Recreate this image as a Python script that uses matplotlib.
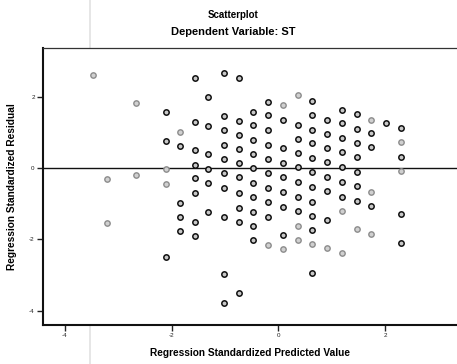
import matplotlib
matplotlib.use("Agg")
import matplotlib.pyplot as plt
from matplotlib.lines import Line2D

plt.rcParams['font.family'] = ['Liberation Sans', 'DejaVu Sans']

title_top = "Scatterplot"
title_sub = "Dependent Variable: ST"
x_label = "Regression Standardized Predicted Value"
y_label = "Regression Standardized Residual"

x_ticks = [-4, -2, 0, 2]
y_ticks = [-4, -2, 0, 2]

# Standardized predicted values (one per column of the lattice)
pred_values = [-2.11, -1.85, -1.57, -1.31, -1.02, -0.74, -0.48, -0.20,
               0.08, 0.37, 0.63, 0.91, 1.19, 1.47, 1.73, 2.01, 2.30]

# Standardized residuals observed at each predicted value
resid_values = [
    [1.57, 0.76, -2.49],
    [0.62, -0.98, -1.37, -1.76],
    [2.52, 1.29, 0.50, 0.08, -0.28, -0.70, -1.51, -1.90],
    [1.99, 1.18, 0.39, -0.03, -0.42, -1.23],
    [2.66, 1.46, 1.06, 0.64, 0.25, -0.14, -0.56, -1.37, -2.97, -3.78],
    [2.52, 1.32, 0.92, 0.53, 0.14, -0.25, -0.70, -1.12, -1.51, -3.50],
    [1.57, 1.20, 0.78, 0.39, 0.00, -0.42, -0.81, -1.23, -1.62, -2.02],
    [1.85, 1.48, 1.06, 0.64, 0.25, -0.14, -0.56, -0.95, -1.37],
    [1.34, 0.56, 0.14, -0.25, -0.67, -1.09, -1.88],
    [1.20, 0.81, 0.42, 0.03, -0.39, -0.81, -1.20],
    [1.88, 1.48, 1.06, 0.70, 0.28, -0.11, -0.53, -0.95, -1.34, -1.74, -2.94],
    [1.34, 0.95, 0.56, 0.17, -0.25, -0.64, -1.46],
    [1.62, 1.26, 0.84, 0.45, 0.03, -0.39, -0.81],
    [1.51, 1.09, 0.70, 0.31, -0.11, -0.50, -0.92],
    [0.98, 0.59, -1.06],
    [1.26],
    [1.12, 0.31, -1.29, -2.10],
]

# Outlying cases, printed lighter
outer_pred = [-3.48, -3.21, -3.21, -2.67, -2.67, -2.11, -2.11, -1.85,
              0.08, 0.37, 0.37, 0.37, -0.20, 0.08, 0.63, 0.91,
              1.19, 1.19, 1.47, 1.73, 1.73, 1.73, 2.30, 2.30]
outer_resid = [2.61, -0.31, -1.54, 1.82, -0.20, -0.03, -0.45, 1.01,
               1.76, 2.04, -1.62, -2.02, -2.16, -2.27, -2.13, -2.24,
               -1.20, -2.38, -1.71, 1.34, -0.67, -1.85, 0.73, -0.08]

px_w, px_h, dpi = 457, 364, 100
fig = plt.figure(figsize=(px_w / dpi, px_h / dpi), dpi=dpi)
fig.patch.set_facecolor("white")

ax = fig.add_axes([43 / px_w, (px_h - 325) / px_h,
                   (px_w - 43) / px_w, (325 - 48) / px_h])

xs, ys = [], []
for p, col in zip(pred_values, resid_values):
    for r in col:
        xs.append(p)
        ys.append(r)

ax.scatter(outer_pred, outer_resid, s=15, facecolor="#d0d0d0",
           edgecolor="#8c8c8c", linewidth=1.0, zorder=3)
ax.scatter(xs, ys, s=15, facecolor="#c8c8c8", edgecolor="#111111",
           linewidth=1.1, zorder=3)

ax.axhline(0, color="#111111", linewidth=1.0, zorder=2)

ax.set_xlim(-4.41, 3.35)
ax.set_ylim(-4.40, 3.36)
ax.set_xticks(x_ticks)
ax.set_yticks(y_ticks)
ax.set_xticklabels([str(t) for t in x_ticks])
ax.set_yticklabels([str(t) for t in y_ticks])
ax.tick_params(direction="out", length=4, width=1.0, labelsize=4.5,
               pad=2, colors="#222222")

for side in ("left", "bottom"):
    ax.spines[side].set_linewidth(1.5)
    ax.spines[side].set_color("#111111")
ax.spines["top"].set_linewidth(0.9)
ax.spines["top"].set_color("#333333")
ax.spines["right"].set_visible(False)

ax.set_xlabel(x_label, fontsize=7.3, fontweight="bold", labelpad=7)
ax.set_ylabel(y_label, fontsize=7.3, fontweight="bold", labelpad=9)

fig.text(233 / px_w, 1 - 15 / px_h, title_top, ha="center", va="center",
         fontsize=7.0, fontweight="bold")
fig.text(233 / px_w, 1 - 32 / px_h, title_sub, ha="center", va="center",
         fontsize=8.0, fontweight="bold")

# faint vertical streak running down the page
fig.add_artist(Line2D([90 / px_w, 90 / px_w], [0, 1], color="#e2e2e2",
                      linewidth=1.2, transform=fig.transFigure, zorder=0))

fig.savefig("out.png", dpi=dpi, facecolor="white")
